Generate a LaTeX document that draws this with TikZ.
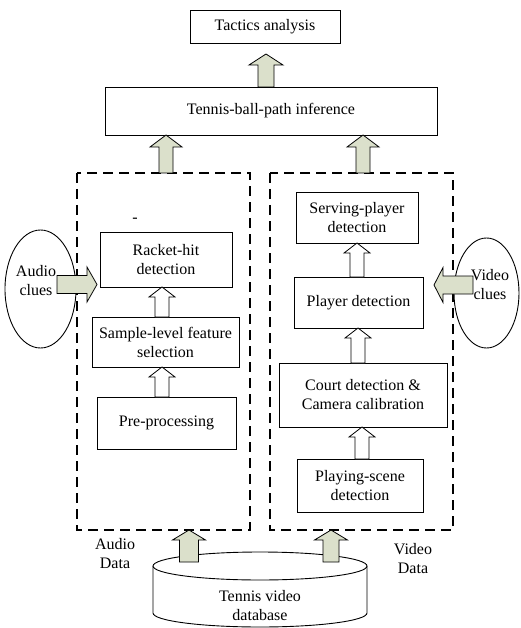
\documentclass[tikz,border=0pt]{standalone}
\usepackage{fontspec}
\setmainfont{Liberation Serif}
\usetikzlibrary{calc,shapes.geometric}
\definecolor{gfill}{RGB}{219,224,203}
\tikzset{
 txt/.style={font=\fontsize{16}{19}\selectfont},
 box/.style={draw, line width=0.9pt, fill=white, align=center, inner sep=0pt, txt},
 lbl/.style={align=center, inner sep=0pt, txt},
 dbox/.style={draw, line width=1.4pt, dash pattern=on 10pt off 6pt},
 garr/.style={draw, line width=0.8pt, fill=gfill},
 warr/.style={draw, line width=0.8pt, fill=white},
 oval/.style={draw, ellipse, line width=0.9pt, inner sep=0pt},
}
% vertical up block arrow: style, bottom, top, shaft half-width, head half-width, head length
\newcommand\blkup[6]{%
 \path[#1] let \p1=(#2), \p2=(#3) in
 ({\x1-#4},\y1) -- ({\x1-#4},{\y2-#6}) -- ({\x1-#5},{\y2-#6}) -- (\x1,\y2) --
 ({\x1+#5},{\y2-#6}) -- ({\x1+#4},{\y2-#6}) -- ({\x1+#4},\y1) -- cycle;}
% horizontal block arrow: style, tail, tip, shaft hw, head hw, head length, direction (1 right, -1 left)
\newcommand\blkh[7]{%
 \path[#1] let \p1=(#2), \p2=(#3) in
 (\x1,{\y1+#4}) -- ({\x2-#7*#6},{\y1+#4}) -- ({\x2-#7*#6},{\y1+#5}) -- (\x2,\y1) --
 ({\x2-#7*#6},{\y1-#5}) -- ({\x2-#7*#6},{\y1-#4}) -- (\x1,{\y1-#4}) -- cycle;}
\begin{document}
\begin{tikzpicture}[x=1pt,y=-1pt]
\useasboundingbox (0,0) rectangle (520,628);

% ovals for clues
\node[oval, minimum width=71pt, minimum height=118pt] (audE) at (40.5,289) {};
\node[lbl] (audT) at (36,281) {Audio\\clues};
\node[oval, minimum width=65pt, minimum height=110pt] (vidE) at (486.5,293) {};
\node[lbl] (vidT) at (490,285) {Video\\clues};

% dashed groups
\draw[dbox] (77,173) rectangle (250,530);
\draw[dbox] (270,173) rectangle (453,530);

% top boxes
\node[box, minimum width=150pt, minimum height=33pt] (tac) at (265,26.5) {Tactics analysis};
\node[box, minimum width=332pt, minimum height=48pt] (tbp) at (271,111) {Tennis-ball-path inference};

% audio branch
\node[box, minimum width=132pt, minimum height=55pt] (racket) at (166,259.5) {Racket-hit\\detection};
\node[box, minimum width=147pt, minimum height=50pt] (sample) at (165.5,342) {Sample-level feature\\selection};
\node[box, minimum width=139pt, minimum height=52pt] (pre) at (166.5,423) {Pre-processing};
\node[lbl] (tick) at (135,220) {-};

% video branch
\node[box, minimum width=122pt, minimum height=51pt] (serv) at (357,217.5) {Serving-player\\detection};
\node[box, minimum width=129pt, minimum height=51pt] (player) at (358.5,302.5) {Player detection};
\node[box, minimum width=168pt, minimum height=64pt] (court) at (363,395) {Court detection \&\\Camera calibration};
\node[box, minimum width=126pt, minimum height=53pt] (playing) at (360,485.5) {Playing-scene\\detection};

% database cylinder
\draw[line width=0.9pt, fill=white] (153,566) -- (153,613) arc[start angle=180, end angle=360, x radius=107pt, y radius=14pt] -- (367,566);
\draw[line width=0.9pt, fill=white] (260,566) ellipse [x radius=107pt, y radius=14pt];
\node[lbl] (db) at (260,606) {Tennis video\\database};

% labels
\node[lbl] (audD) at (115,554) {Audio\\Data};
\node[lbl] (vidD) at (413,559) {Video\\Data};

% green block arrows
\coordinate (a1b) at (266,87);  \coordinate (a1t) at (266,54);
\blkup{garr}{a1b}{a1t}{8pt}{17pt}{11pt}
\coordinate (a2b) at (166,173); \coordinate (a2t) at (166,135);
\blkup{garr}{a2b}{a2t}{7pt}{16pt}{12pt}
\coordinate (a3b) at (363,173); \coordinate (a3t) at (363,135);
\blkup{garr}{a3b}{a3t}{7pt}{16pt}{12pt}
\coordinate (d1b) at (189,562); \coordinate (d1t) at (189,530);
\blkup{garr}{d1b}{d1t}{9.5pt}{16.5pt}{10pt}
\coordinate (d2b) at (331,562); \coordinate (d2t) at (331,530);
\blkup{garr}{d2b}{d2t}{8pt}{16.5pt}{10pt}
\coordinate (auT) at (57,284.5); \coordinate (auH) at (97,284.5);
\blkh{garr}{auT}{auH}{9pt}{17.5pt}{10pt}{1}
\coordinate (viT) at (473,285); \coordinate (viH) at (434,285);
\blkh{garr}{viT}{viH}{9pt}{17.5pt}{9pt}{-1}

% white block arrows
\coordinate (w1b) at (162,317); \coordinate (w1t) at (162,287);
\blkup{warr}{w1b}{w1t}{7pt}{13pt}{10pt}
\coordinate (w2b) at (162,397); \coordinate (w2t) at (162,367);
\blkup{warr}{w2b}{w2t}{7pt}{13pt}{10pt}
\coordinate (w3b) at (357,277); \coordinate (w3t) at (357,243);
\blkup{warr}{w3b}{w3t}{7pt}{13pt}{10pt}
\coordinate (w4b) at (358,363); \coordinate (w4t) at (358,328);
\blkup{warr}{w4b}{w4t}{7pt}{13pt}{10pt}
\coordinate (w5b) at (362,459); \coordinate (w5t) at (362,427);
\blkup{warr}{w5b}{w5t}{7pt}{13pt}{10pt}
\end{tikzpicture}
\end{document}
